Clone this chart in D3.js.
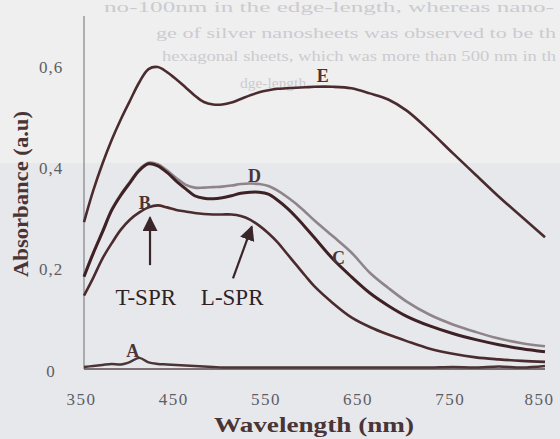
<!DOCTYPE html>
<html>
<head>
<meta charset="utf-8">
<script src="https://cdn.jsdelivr.net/npm/d3@7"></script>
<style>
  body { margin: 0; padding: 0; background: #e8e9ed; }
  svg { display: block; }
  .tickText { font-family: "Liberation Serif", "Times New Roman", serif; fill: #5e5e62; }
  .title { font-family: "Liberation Serif", "Times New Roman", serif; font-weight: bold; fill: #4a3436; }
  .ghost { font-family: "Liberation Serif", "Times New Roman", serif; fill: #cbcbcf; }
</style>
</head>
<body>
<svg id="chart"></svg>
<script>
//wavelength grid shared by every spectrum (nm)
var wavelengths = [350, 360, 370, 380, 390, 400, 410, 420, 430, 440, 450, 460, 470, 480, 490, 500, 510, 520, 530, 540,
                   550, 560, 570, 580, 590, 600, 620, 640, 660, 680, 700, 725, 750, 775, 800, 825, 850];

//absorbance of each sample
var seriesA = [0.004, 0.006, 0.008, 0.010, 0.009, 0.014, 0.022, 0.013, 0.010, 0.009, 0.008, 0.007, 0.006, 0.005, 0.004, 0.003, 0.003, 0.003, 0.003, 0.003,
               0.003, 0.003, 0.003, 0.003, 0.003, 0.003, 0.003, 0.003, 0.003, 0.003, 0.003, 0.003, 0.004, 0.003, 0.005, 0.003, 0.006];
var seriesB = [0.145, 0.180, 0.218, 0.248, 0.275, 0.295, 0.309, 0.319, 0.323, 0.319, 0.314, 0.311, 0.308, 0.306, 0.305, 0.305, 0.305, 0.302, 0.295, 0.283,
               0.268, 0.250, 0.228, 0.206, 0.184, 0.163, 0.130, 0.102, 0.083, 0.068, 0.055, 0.040, 0.030, 0.023, 0.019, 0.016, 0.014];
var seriesC = [0.182, 0.228, 0.270, 0.313, 0.343, 0.368, 0.392, 0.405, 0.401, 0.388, 0.371, 0.356, 0.342, 0.337, 0.336, 0.338, 0.342, 0.347, 0.349, 0.349,
               0.345, 0.333, 0.318, 0.300, 0.280, 0.259, 0.217, 0.182, 0.150, 0.125, 0.104, 0.085, 0.070, 0.058, 0.048, 0.040, 0.034];
var seriesD = [0.184, 0.230, 0.272, 0.315, 0.345, 0.370, 0.394, 0.407, 0.404, 0.392, 0.377, 0.364, 0.358, 0.358, 0.359, 0.360, 0.362, 0.365, 0.366, 0.365,
               0.361, 0.352, 0.340, 0.326, 0.310, 0.293, 0.262, 0.230, 0.190, 0.160, 0.133, 0.107, 0.088, 0.073, 0.060, 0.051, 0.045];
var seriesE = [0.290, 0.352, 0.405, 0.452, 0.493, 0.530, 0.566, 0.592, 0.596, 0.586, 0.572, 0.556, 0.540, 0.527, 0.522, 0.522, 0.526, 0.533, 0.540, 0.546,
               0.550, 0.553, 0.554, 0.555, 0.556, 0.557, 0.557, 0.554, 0.544, 0.532, 0.510, 0.470, 0.426, 0.383, 0.340, 0.300, 0.260];

//tick labels
var xTicks = [350, 450, 550, 650, 750, 850];
var yTicks = [0, 0.2, 0.4, 0.6];

//curve letters, placed in data units (wavelength, absorbance)
var curveNames = ["E", "D", "C", "B", "A"];
var curveLabelX = [609, 535, 626, 416, 403];
var curveLabelY = [0.579, 0.382, 0.220, 0.329, 0.037];

//arrow annotations (wavelength, absorbance)
var arrowNames = ["T-SPR", "L-SPR"];
var arrowFromX = [421.6, 511.6];
var arrowFromY = [0.205, 0.179];
var arrowToX = [421.6, 532];
var arrowToY = [0.299, 0.281];
var arrowTextX = [417, 510.7];
var arrowTextY = [0.126, 0.126];

function runScript () {

    var width = 560;
    var height = 439;

    var svg = d3.select("#chart")
        .attr("width", width)
        .attr("height", height);

    //scanned page background, top part is a bit lighter
    svg.append("rect").attr("width", width).attr("height", height).attr("fill", "#e7e8ec");
    svg.append("rect").attr("width", width).attr("height", 163).attr("fill", "#efefef");

    //faint text from the page behind the figure
    var ghostLines = [
        {t: "no-100nm in the edge-length, whereas nano-", x: 104, y: 12, w: 450},
        {t: "ge of silver nanosheets was observed to be th", x: 156, y: 38, w: 400},
        {t: "hexagonal sheets, which was more than 500 nm in th", x: 162, y: 61, w: 394},
        {t: "dge-length.", x: 240, y: 88, w: 70}
    ];
    svg.selectAll(".ghost")
        .data(ghostLines)
        .enter()
        .append("text")
        .attr("class", "ghost")
        .attr("x", function (d) { return d.x; })
        .attr("y", function (d) { return d.y; })
        .attr("textLength", function (d) { return d.w; })
        .attr("lengthAdjust", "spacingAndGlyphs")
        .style("font-size", "15px")
        .text(function (d) { return d.t; });

    var x = d3.scaleLinear().domain([350, 850]).range([84, 545]);
    var y = d3.scaleLinear().domain([0, 0.6]).range([369, 65]);

    //y axis
    var yAxis = d3.axisLeft(y)
        .tickValues(yTicks)
        .tickSize(0)
        .tickFormat(function (d) { return d === 0 ? "0" : d3.format(".1f")(d).replace(".", ","); });

    var yAxisG = svg.append("g")
        .attr("transform", "translate(" + x(350) + ",0)")
        .call(yAxis);
    yAxisG.select(".domain").remove();
    yAxisG.selectAll("text")
        .attr("class", "tickText")
        .attr("x", -33)
        .attr("dy", "0.42em")
        .attr("text-anchor", "middle")
        .style("font-size", "17px")
        .style("letter-spacing", "1px");

    //x axis
    var xAxis = d3.axisBottom(x)
        .tickValues(xTicks)
        .tickSize(0)
        .tickPadding(24)
        .tickFormat(d3.format("d"));

    var xAxisG = svg.append("g")
        .attr("transform", "translate(0," + y(0) + ")")
        .call(xAxis);
    xAxisG.select(".domain").remove();
    xAxisG.selectAll("text")
        .attr("class", "tickText")
        .attr("x", function (d) { return d === 850 ? -6 : -3; })
        .style("font-size", "17px")
        .style("letter-spacing", "1.5px");

    //axis lines drawn by hand so the vertical one runs up past 0,6
    svg.append("line")
        .attr("x1", x(350)).attr("x2", x(350))
        .attr("y1", y(0)).attr("y2", 16)
        .attr("stroke", "#6e6e72").attr("stroke-width", 1);
    svg.append("line")
        .attr("x1", x(350)).attr("x2", x(850))
        .attr("y1", y(0)).attr("y2", y(0))
        .attr("stroke", "#5a4a4c").attr("stroke-width", 1.6);

    //spectra
    var lineGen = d3.line()
        .x(function (d, i) { return x(wavelengths[i]); })
        .y(function (d) { return y(d); })
        .curve(d3.curveCatmullRom.alpha(0.5));

    var curves = [
        {name: "D", values: seriesD, color: "#8e8489", w: 2.6},
        {name: "E", values: seriesE, color: "#4a2c2f", w: 2.6},
        {name: "B", values: seriesB, color: "#4a2c2f", w: 2.6},
        {name: "C", values: seriesC, color: "#3e2124", w: 3},
        {name: "A", values: seriesA, color: "#4a3436", w: 2.4}
    ];

    svg.selectAll(".spectrum")
        .data(curves)
        .enter()
        .append("path")
        .attr("class", "spectrum")
        .attr("d", function (d) { return lineGen(d.values); })
        .attr("fill", "none")
        .attr("stroke", function (d) { return d.color; })
        .attr("stroke-width", function (d) { return d.w; })
        .attr("stroke-linejoin", "round");

    //letters on the curves
    svg.selectAll(".curveLabel")
        .data(curveNames)
        .enter()
        .append("text")
        .attr("class", "title curveLabel")
        .attr("x", function (d, i) { return x(curveLabelX[i]); })
        .attr("y", function (d, i) { return y(curveLabelY[i]); })
        .attr("dy", "0.35em")
        .attr("text-anchor", "middle")
        .style("font-size", "18px")
        .text(function (d) { return d; });

    //arrow head
    svg.append("defs").append("marker")
        .attr("id", "head")
        .attr("viewBox", "0 0 10 10")
        .attr("refX", 9)
        .attr("refY", 5)
        .attr("markerUnits", "userSpaceOnUse")
        .attr("markerWidth", 15)
        .attr("markerHeight", 15)
        .attr("orient", "auto")
        .append("path")
        .attr("d", "M0,0 L10,5 L0,10 Z")
        .attr("fill", "#3a2628");

    svg.selectAll(".arrow")
        .data(arrowNames)
        .enter()
        .append("line")
        .attr("class", "arrow")
        .attr("x1", function (d, i) { return x(arrowFromX[i]); })
        .attr("y1", function (d, i) { return y(arrowFromY[i]); })
        .attr("x2", function (d, i) { return x(arrowToX[i]); })
        .attr("y2", function (d, i) { return y(arrowToY[i]); })
        .attr("stroke", "#3a2628")
        .attr("stroke-width", 2.2)
        .attr("marker-end", "url(#head)");

    svg.selectAll(".arrowText")
        .data(arrowNames)
        .enter()
        .append("text")
        .attr("class", "arrowText")
        .attr("x", function (d, i) { return x(arrowTextX[i]); })
        .attr("y", function (d, i) { return y(arrowTextY[i]); })
        .attr("text-anchor", "middle")
        .style("font-family", "'Liberation Serif', 'Times New Roman', serif")
        .style("font-size", "23px")
        .style("fill", "#2e2224")
        .text(function (d) { return d; });

    //axis titles
    svg.append("text")
        .attr("class", "title")
        .attr("x", 314)
        .attr("y", 432)
        .attr("text-anchor", "middle")
        .attr("textLength", 200)
        .attr("lengthAdjust", "spacingAndGlyphs")
        .style("font-size", "20px")
        .text("Wavelength (nm)");

    svg.append("text")
        .attr("class", "title")
        .attr("transform", "translate(28,194) rotate(-90)")
        .attr("text-anchor", "middle")
        .attr("textLength", 166)
        .attr("lengthAdjust", "spacingAndGlyphs")
        .style("font-size", "20px")
        .text("Absorbance (a.u)");

    console.log("chart drawn");
}

window.onload = runScript;
</script>
</body>
</html>
